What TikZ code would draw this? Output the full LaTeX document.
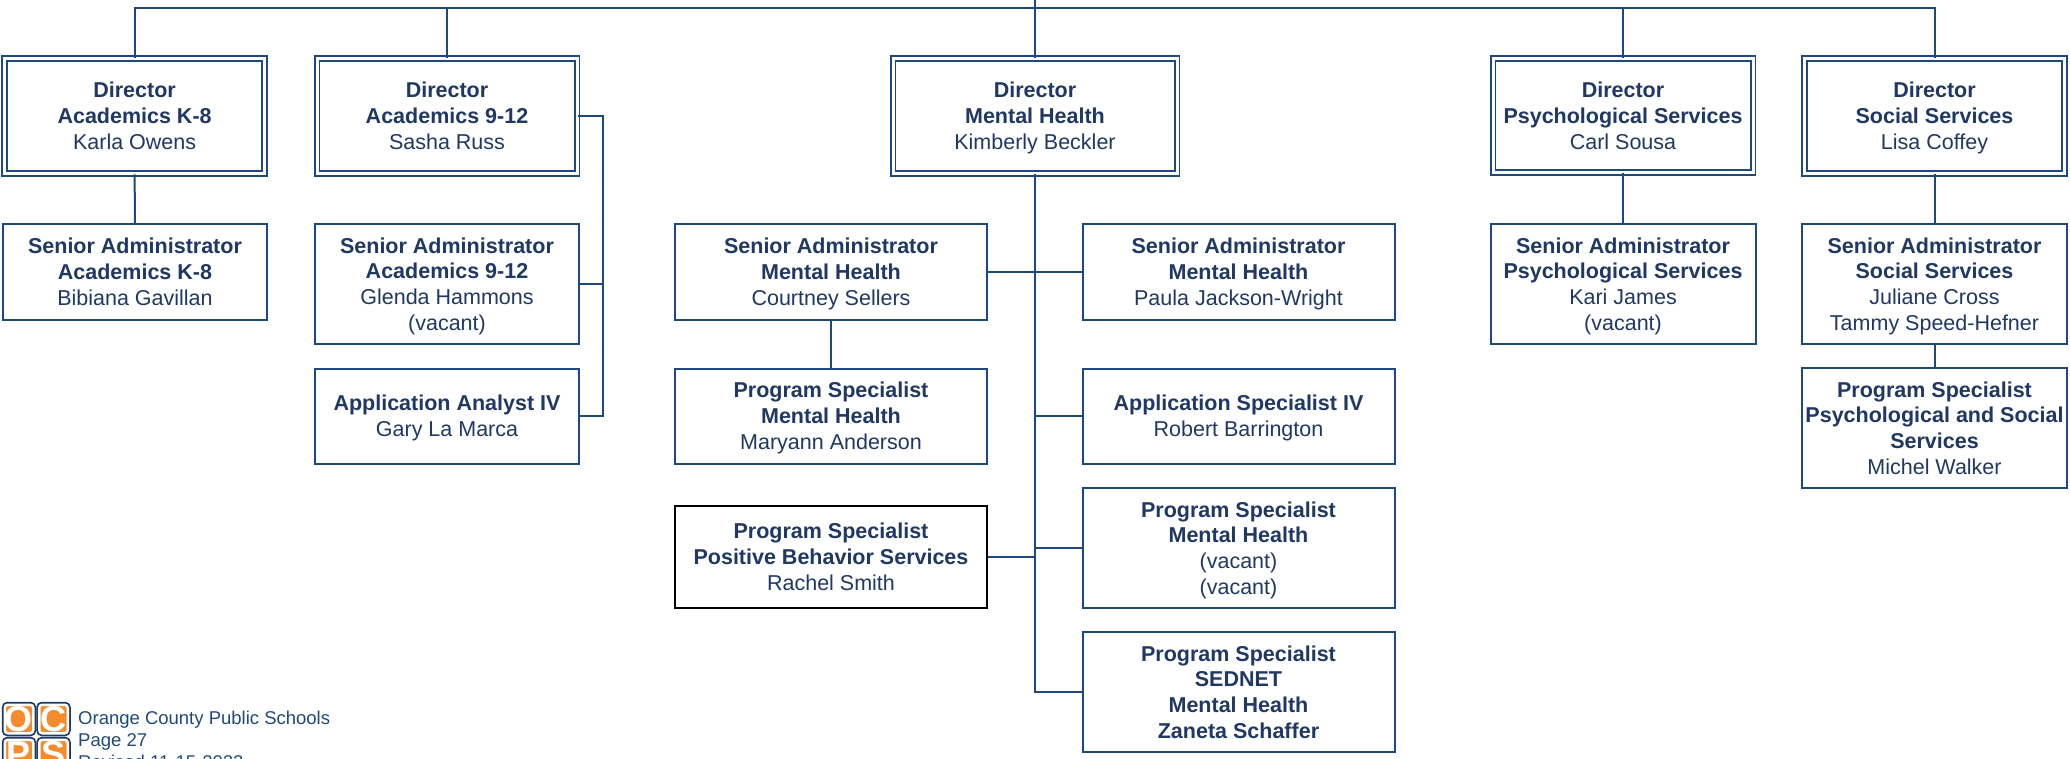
\documentclass[tikz,border=0pt]{standalone}
\usepackage{fontspec}
\setmainfont{Liberation Sans}
\definecolor{linecol}{HTML}{1F497D}
\definecolor{textcol}{HTML}{1F3864}
\definecolor{logoorange}{HTML}{F68B2D}
\tikzset{
  orgbox/.style={draw=linecol,line width=2pt,fill=white,text=textcol,align=center,inner sep=0pt,
    text depth=0pt,font=\fontsize{21.5}{25.8}\selectfont},
  dirbox/.style={orgbox,double,line width=1.8pt,double distance=3pt},
  link/.style={draw=linecol,line width=2pt},
  logotile/.style={draw=white,line width=2.5pt,fill=logoorange,rounded corners=3pt,
    preaction={draw=textcol,line width=6pt},
    minimum size=28.5pt,inner sep=0pt,outer sep=0pt,text=white,font=\fontsize{36}{36}\selectfont\bfseries},
  foottext/.style={text=linecol,anchor=base west,inner sep=0pt,font=\fontsize{18.5}{18.5}\selectfont}
}
\begin{document}
\begin{tikzpicture}[x=1pt,y=-1pt]
  \clip (0,0) rectangle (2070,759);
  % Directors
  \node[dirbox,minimum width=260,minimum height=115] (dirk) at (134.6,116) {\textbf{Director}\\\textbf{Academics K-8}\\Karla Owens};
  \node[dirbox,minimum width=260,minimum height=115] (dirhs) at (447,116) {\textbf{Director}\\\textbf{Academics 9-12}\\Sasha Russ};
  \node[dirbox,minimum width=284,minimum height=115] (dirmh) at (1035,116) {\textbf{Director}\\\textbf{Mental Health}\\Kimberly Beckler};
  \node[dirbox,minimum width=260,minimum height=114] (dirpsy) at (1623,115.5) {\textbf{Director}\\\textbf{Psychological Services}\\Carl Sousa};
  \node[dirbox,minimum width=260,minimum height=115] (dirsoc) at (1934.5,116) {\textbf{Director}\\\textbf{Social Services}\\Lisa Coffey};
  % Academics
  \node[orgbox,minimum width=264,minimum height=96] (srk) at (135,272) {\textbf{Senior Administrator}\\\textbf{Academics K-8}\\Bibiana Gavillan};
  \node[orgbox,minimum width=264,minimum height=120] (srhs) at (447,284) {\textbf{Senior Administrator}\\\textbf{Academics 9-12}\\Glenda Hammons\\(vacant)};
  \node[orgbox,minimum width=264,minimum height=95] (analyst) at (447,416) {\textbf{Application Analyst IV}\\Gary La Marca};
  % Mental health
  \node[orgbox,minimum width=312,minimum height=96] (srmha) at (831,272) {\textbf{Senior Administrator}\\\textbf{Mental Health}\\Courtney Sellers};
  \node[orgbox,minimum width=312,minimum height=96] (srmhb) at (1238.5,272) {\textbf{Senior Administrator}\\\textbf{Mental Health}\\Paula Jackson-Wright};
  \node[orgbox,minimum width=312,minimum height=95] (progmh) at (831,416) {\textbf{Program Specialist}\\\textbf{Mental Health}\\Maryann Anderson};
  \node[orgbox,minimum width=312,minimum height=95] (appmh) at (1238.5,416) {\textbf{Application Specialist IV}\\Robert Barrington};
  \node[orgbox,draw=black,minimum width=312,minimum height=102] (progpbs) at (831,557) {\textbf{Program Specialist}\\\textbf{Positive Behavior Services}\\Rachel Smith};
  \node[orgbox,minimum width=312,minimum height=120] (progvac) at (1238.5,548) {\textbf{Program Specialist}\\\textbf{Mental Health}\\(vacant)\\(vacant)};
  \node[orgbox,minimum width=312,minimum height=120] (progsed) at (1238.5,692) {\textbf{Program Specialist}\\\textbf{SEDNET}\\\textbf{Mental Health}\\\textbf{Zaneta Schaffer}};
  % Psychological and social
  \node[orgbox,minimum width=265,minimum height=120] (srpsy) at (1623,284) {\textbf{Senior Administrator}\\\textbf{Psychological Services}\\Kari James\\(vacant)};
  \node[orgbox,minimum width=265,minimum height=120] (srsoc) at (1934.5,284) {\textbf{Senior Administrator}\\\textbf{Social Services}\\Juliane Cross\\Tammy Speed-Hefner};
  \node[orgbox,minimum width=265,minimum height=120] (progsoc) at (1934.5,428) {\textbf{Program Specialist}\\\textbf{Psychological and Social}\\\textbf{Services}\\Michel Walker};
  % Connectors
  \coordinate (top) at (1035,0);
  \coordinate (topbus) at (1035,8);
  \coordinate (hsbus) at (603,116);
  \draw[link] (top) -- (dirmh.north);
  \foreach \n in {dirk,dirhs,dirpsy,dirsoc} {
    \draw[link] (\n.north) |- (topbus);
  }
  \draw[link] (dirk.south) -- (srk.north);
  \draw[link] (dirhs.east) -- (hsbus) |- (analyst.east);
  \draw[link] (srhs.east) -- (srhs.east -| hsbus);
  \draw[link] (dirmh.south) |- (progsed.west);
  \draw[link] (srmha.east) -- (srmhb.west);
  \draw[link] (srmha.south) -- (progmh.north);
  \draw[link] (appmh.west) -- (appmh.west -| dirmh.south);
  \draw[link] (progvac.west) -- (progvac.west -| dirmh.south);
  \draw[link] (progpbs.east) -- (progpbs.east -| dirmh.south);
  \draw[link] (dirpsy.south) -- (srpsy.north);
  \draw[link] (dirsoc.south) -- (srsoc.north);
  \draw[link] (srsoc.south) -- (progsoc.north);
  % Logo and footer
  \node[logotile] (logoo) at (19,719) {O};
  \node[logotile] (logoc) at (53.5,719) {C};
  \node[logotile] (logop) at (19,754) {P};
  \node[logotile] (logos) at (53.5,754) {S};
  \node[foottext] (school) at (78,724) {Orange County Public Schools};
  \node[foottext] (page) at (78,746) {Page 27};
  \node[foottext] (revised) at (78,768) {Revised 11-15-2022};
\end{tikzpicture}
\end{document}
